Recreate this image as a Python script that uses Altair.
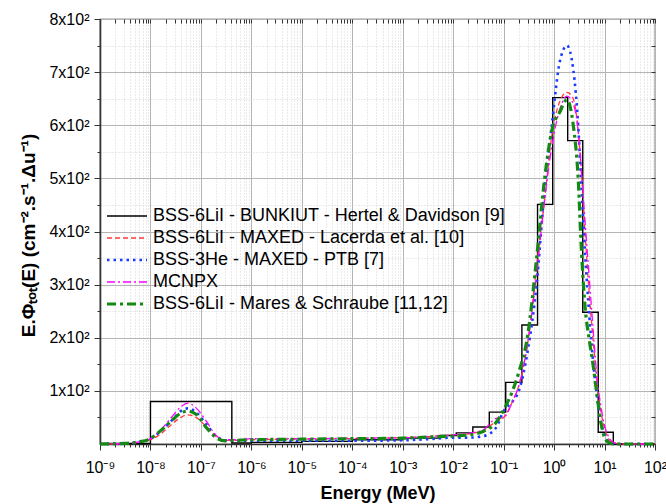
import json
import altair as alt
import pandas as pd

series_names = [
    "BSS-6LiI - BUNKIUT - Hertel & Davidson [9]",
    "BSS-6LiI - MAXED - Lacerda et al. [10]",
    "BSS-3He - MAXED - PTB [7]",
    "MCNPX",
    "BSS-6LiI - Mares & Schraube [11,12]",
]
series_colors = ["#000000", "#ff3b3b", "#1a3cff", "#ff00ff", "#138a13"]
series_dashes = [[1, 0], [5, 3], [2.5, 4], [8, 3, 2, 3], [9, 4, 3, 4]]
series_widths = [1.4, 1.3, 2.6, 1.3, 3.2]

# BUNKIUT histogram (step) : bin lower edges and values
black_edges = [1e-9, 1e-8, 4.1e-7, 1e-6, 1e-5, 1e-4, 1e-3, 5.5e-3, 1.15e-2, 2.45e-2,
               5.2e-2, 0.11, 0.23, 0.47, 0.94, 1.86, 3.7, 7.5, 14.9, 100]
black_values = [1, 80, 2, 3, 5, 8, 11, 16, 21, 32,
                60, 116, 224, 451, 652, 571, 248, 22, 0, 0]

energy = [1e-9, 3e-9, 6e-9, 1e-8, 1.5e-8, 2.5e-8, 4e-8, 5.5e-8, 8e-8, 1.3e-7, 2e-7, 3e-7, 5e-7,
          1e-6, 1e-5, 1e-4, 1e-3, 3e-3, 1e-2, 2e-2, 4e-2, 7e-2,
          0.1, 0.15, 0.2, 0.3, 0.45, 0.65, 0.9, 1.3, 1.8, 2.4, 3.0, 3.5, 4.1, 5.0, 6.0, 7.0,
          8.5, 10, 12, 15, 20, 100]
lacerda = [0, 1, 3, 8, 17, 35, 50, 55, 50, 32, 14, 7, 7,
           8, 9, 10, 12, 14, 17, 19, 26, 42,
           50, 80, 110, 190, 335, 460, 580, 645, 662, 650, 590, 510, 400, 280, 190, 120,
           60, 30, 10, 2, 0, 0]
ptb = [0, 1, 4, 10, 22, 42, 62, 67, 60, 36, 15, 7, 6,
       6, 6, 6, 7, 9, 12, 12, 15, 30,
       62, 80, 100, 175, 300, 480, 600, 720, 750, 705, 600, 480, 360, 240, 150, 95,
       40, 18, 4, 0, 0, 0]
mcnpx = [0, 1, 4, 10, 24, 48, 70, 77, 68, 42, 16, 8, 8,
         10, 10, 11, 12, 14, 17, 20, 27, 48,
         50, 80, 110, 190, 320, 460, 560, 630, 655, 640, 590, 510, 420, 310, 210, 130,
         70, 35, 14, 3, 0, 0]
mares = [0, 1, 4, 10, 23, 42, 58, 62, 56, 30, 12, 6, 7,
         8, 9, 10, 11, 13, 15, 17, 24, 40,
         64, 100, 135, 205, 350, 500, 590, 625, 648, 600, 500, 360, 260, 195, 145, 96,
         40, 12, 3, 0, 0, 0]

x_major_labels = ["10⁻⁹", "10⁻⁸", "10⁻⁷", "10⁻⁶", "10⁻⁵", "10⁻⁴", "10⁻³",
                  "10⁻²", "10⁻¹", "10⁰", "10¹", "10²"]
y_major_labels = ["1x10²", "2x10²", "3x10²", "4x10²", "5x10²", "6x10²", "7x10²", "8x10²"]

x_ticks = [k * 10.0 ** d for d in range(-9, 2) for k in range(1, 10)] + [100.0]
y_ticks = list(range(50, 801, 50))

black_df = pd.DataFrame({"E": black_edges, "value": black_values, "series": series_names[0]})
smooth_df = pd.concat([
    pd.DataFrame({"E": energy, "value": vals, "series": name})
    for name, vals in zip(series_names[1:], [lacerda, ptb, mcnpx, mares])
])

xscale = alt.Scale(type="log", domain=[1e-9, 1e2], nice=False)
yscale = alt.Scale(domain=[0, 800], nice=False, zero=False)

x_major = "abs(log(datum.value)/LN10 - round(log(datum.value)/LN10)) < 0.01"
y_major = "datum.value % 100 == 0"

x_axis = alt.Axis(
    orient="bottom", values=x_ticks,
    labelExpr=f"{x_major} ? {json.dumps(x_major_labels, ensure_ascii=False)}[round(log(datum.value)/LN10) + 9] : ''",
    labelOverlap=False, labelFlush=False, labelBound=False,
    labelFont="Liberation Sans", labelFontSize=16, labelColor="#000", labelPadding=9,
    tickSize={"condition": {"test": x_major, "value": 6}, "value": 3},
    tickColor="#333", tickWidth=1,
    domainColor="#333", domainWidth=1.6,
    grid=True, gridWidth=1,
    gridColor={"condition": {"test": x_major, "value": "#b4b4b4"}, "value": "#d4d4d4"},
    gridDash={"condition": {"test": x_major, "value": []}, "value": [1, 2]},
    title="Energy (MeV)", titleFont="Liberation Sans", titleFontSize=18,
    titleFontWeight="bold", titleColor="#000", titlePadding=9,
)
y_axis = alt.Axis(
    orient="left", values=y_ticks,
    labelExpr=f"{y_major} ? {json.dumps(y_major_labels, ensure_ascii=False)}[datum.value/100 - 1] : ''",
    labelOverlap=False, labelFlush=False, labelBound=False,
    labelFont="Liberation Sans", labelFontSize=16, labelColor="#000", labelPadding=5,
    tickSize={"condition": {"test": y_major, "value": 6}, "value": 3},
    tickColor="#333", tickWidth=1,
    domainColor="#333", domainWidth=1.6,
    grid=True, gridWidth=1,
    gridColor={"condition": {"test": y_major, "value": "#b4b4b4"}, "value": "#d4d4d4"},
    gridDash={"condition": {"test": y_major, "value": []}, "value": [1, 2]},
    title="E.Φₜₒₜ(E) (cm⁻².s⁻¹.Δu⁻¹)", titleFont="Liberation Sans", titleFontSize=19,
    titleFontWeight="bold", titleColor="#000", titleX=-62, titleY=216,
)

legend = alt.Legend(
    title=None, orient="none", legendX=18, legendY=188,
    symbolType="M-4,0H4", symbolSize=100, symbolStrokeColor="#000", symbolFillColor="transparent",
    labelFont="Liberation Sans", labelFontSize=18, labelColor="#000",
    labelLimit=500, rowPadding=4, labelOffset=17,
)

color_enc = alt.Color("series:N", scale=alt.Scale(domain=series_names, range=series_colors), legend=legend)
dash_enc = alt.StrokeDash("series:N", scale=alt.Scale(domain=series_names, range=series_dashes), legend=legend)
width_enc = alt.StrokeWidth("series:N", scale=alt.Scale(type="ordinal", domain=series_names, range=series_widths), legend=legend)

black = alt.Chart(black_df).mark_line(interpolate="step-after").encode(
    x=alt.X("E:Q", scale=xscale, axis=x_axis),
    y=alt.Y("value:Q", scale=yscale, axis=y_axis),
    color=color_enc, strokeDash=dash_enc, strokeWidth=width_enc,
)

smooth = alt.Chart(smooth_df).mark_line(interpolate="monotone").encode(
    x=alt.X("E:Q", scale=xscale, axis=None),
    y=alt.Y("value:Q", scale=yscale, axis=None),
    color=color_enc, strokeDash=dash_enc, strokeWidth=width_enc,
)

frame_ticks = alt.Chart(black_df).mark_point(opacity=0).encode(
    x=alt.X("E:Q", scale=xscale, axis=alt.Axis(
        orient="top", values=x_ticks, labels=False, grid=False, domain=False,
        tickSize=4, offset=-4, tickColor="#333", title=None)),
    y=alt.Y("value:Q", scale=yscale, axis=alt.Axis(
        orient="right", values=y_ticks, labels=False, grid=False, domain=False,
        tickSize=4, offset=-4, tickColor="#333", title=None)),
)

chart = alt.layer(black, smooth, frame_ticks).resolve_axis(
    x="independent", y="independent"
).properties(
    width=555, height=425,
    autosize=alt.AutoSizeParams(type="none"),
    padding={"left": 100, "top": 19, "right": 11, "bottom": 60},
    background="white",
).configure_view(stroke="#333333", strokeWidth=1.2)

chart.save("out.html", embed_options={"renderer": "svg", "actions": False})
